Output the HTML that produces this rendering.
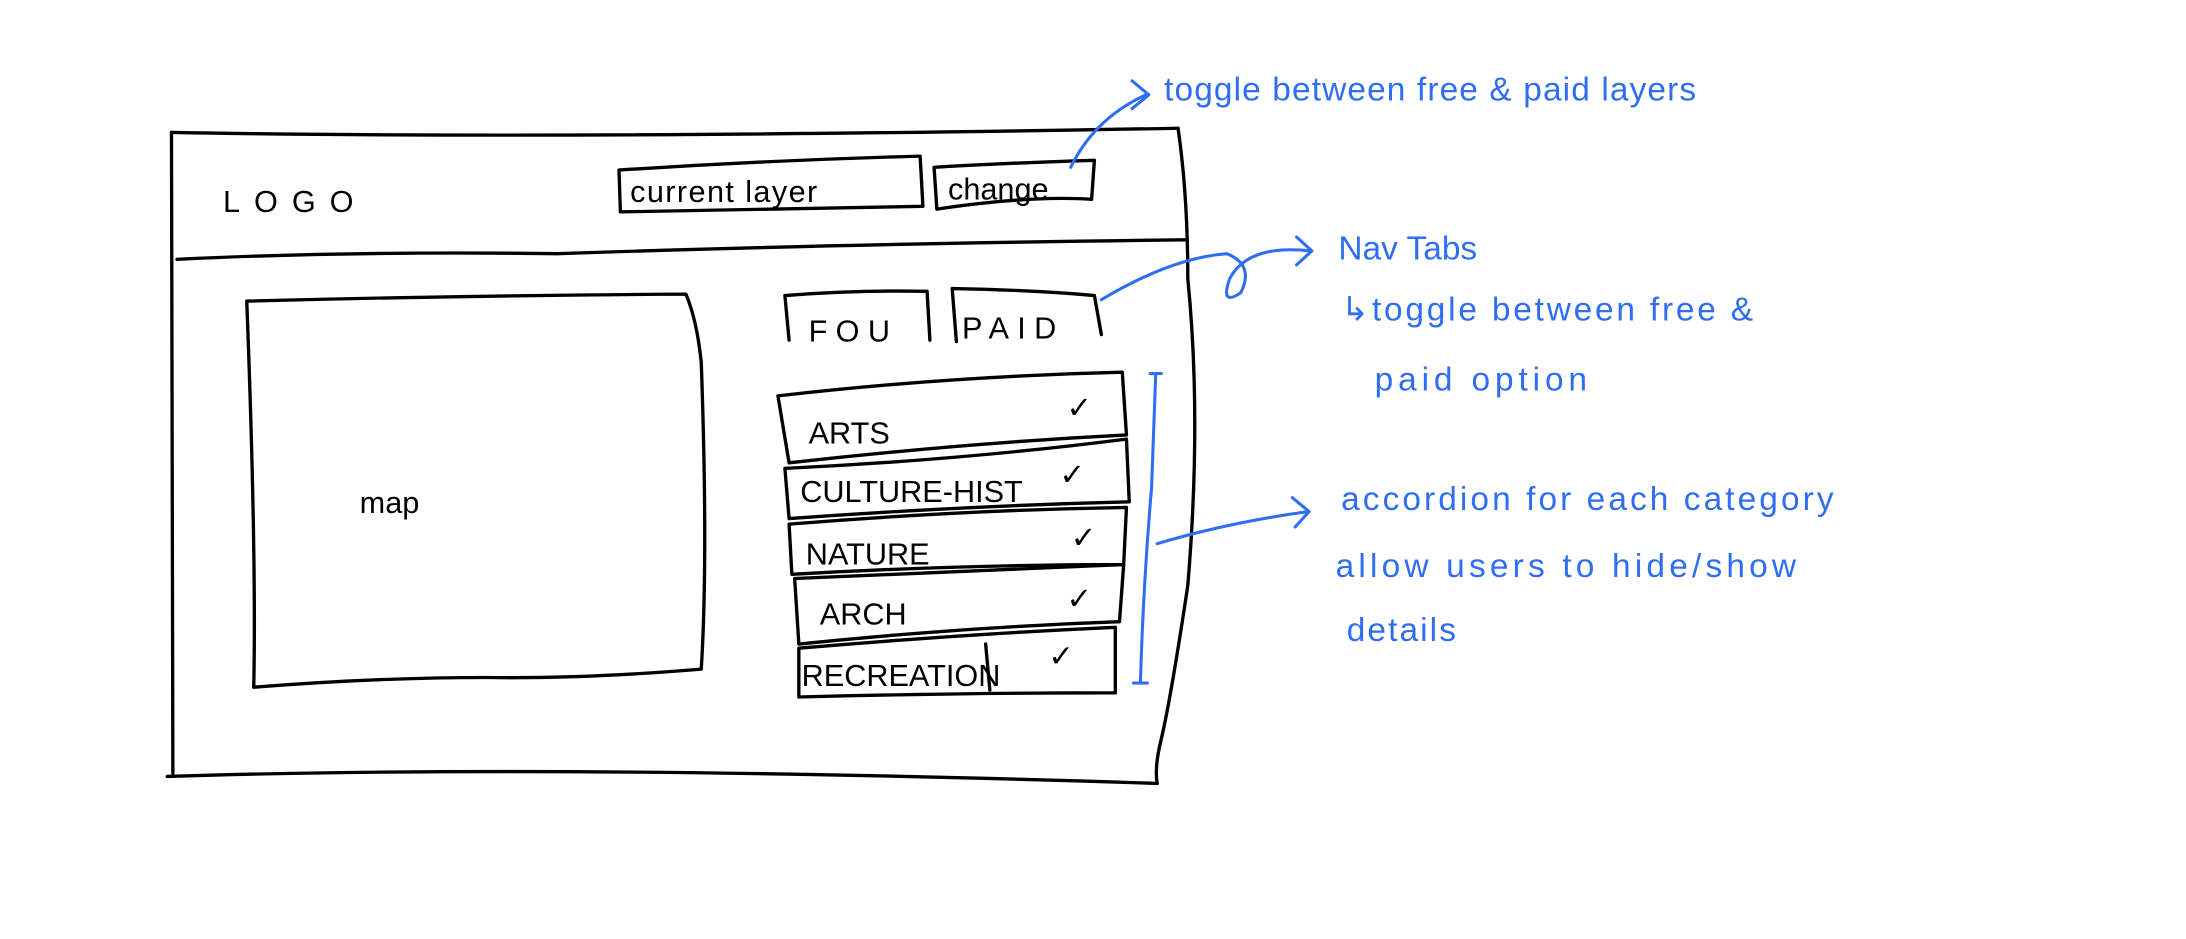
<!DOCTYPE html>
<html><head><meta charset="utf-8"><style>
html,body{margin:0;padding:0;background:#fff;}
svg{display:block;}
text{font-family:"Liberation Sans",sans-serif;}
.k{fill:none;stroke:#000;stroke-width:2.4;stroke-linecap:round;stroke-linejoin:round;}
.b{fill:none;stroke:#2f6ef2;stroke-width:2.2;stroke-linecap:round;stroke-linejoin:round;}
.tk{fill:#000;font-size:22px;}
.tb{fill:#2f6ef2;font-size:24px;}
</style></head><body>
<svg width="2186" height="939" viewBox="0 0 1568 673.6" preserveAspectRatio="none">
<path class="k" d="M123,95 L124,555"/>
<path class="k" d="M123,95 Q400,100 845,92"/>
<path class="k" d="M845,92 Q852,140 852,200 Q862,300 852,420 Q840,500 833,530 Q828,550 830,562"/>
<path class="k" d="M120,557 Q400,548 830,562"/>
<path class="k" d="M127,186 Q250,180 400,182 Q600,175 850,172"/>
<text class="tk" x="160" y="152" font-size="30" letter-spacing="10">LOGO</text>
<path class="k" d="M445,152 L444,122 Q550,115 660,112 L662,148 Q550,150 445,152"/>
<text class="tk" x="452" y="145" font-size="24" letter-spacing="1">current layer</text>
<path class="k" d="M672,150 L670,120 Q720,117 785,115 L783,143 Q740,140 672,150"/>
<text class="tk" x="680" y="143" font-size="22">change</text>
<path class="k" d="M177,216 Q330,212 492,211 Q500,230 503,260 Q508,400 503,480 Q420,487 350,486 Q270,486 182,493 Q184,400 177,216"/>
<text class="tk" x="258" y="368" font-size="28">map</text>
<path class="k" d="M566,244 L563,212 Q615,208 665,209 L667,244"/>
<text class="tk" x="580" y="245" font-size="26" letter-spacing="6">FOU</text>
<path class="k" d="M686,245 L683,207 Q740,208 785,212 L790,240"/>
<text class="tk" x="690" y="243" font-size="24" letter-spacing="6">PAID</text>
<path class="k" d="M558,284 Q680,270 805,267 L808,312 Q690,318 566,332 Z"/>
<text class="tk" x="580" y="318">ARTS</text><text class="tk" x="765" y="300" font-size="26">✓</text>
<path class="k" d="M563,336 Q690,330 808,315 L810,360 Q690,363 566,372 Z"/>
<text class="tk" x="574" y="360">CULTURE-HIST</text><text class="tk" x="760" y="348" font-size="26">✓</text>
<path class="k" d="M566,376 Q690,366 808,364 L806,405 Q690,405 568,412 Z"/>
<text class="tk" x="578" y="405">NATURE</text><text class="tk" x="768" y="393" font-size="26">✓</text>
<path class="k" d="M570,415 L806,405 L803,446 Q690,450 573,462 Z"/>
<text class="tk" x="588" y="448">ARCH</text><text class="tk" x="765" y="437" font-size="26">✓</text>
<path class="k" d="M573,465 Q690,455 800,450 L800,497 Q690,497 573,500 Z"/>
<text class="tk" x="575" y="492">RECREATION</text><text class="tk" x="752" y="478" font-size="26">✓</text>
<path class="k" d="M707,462 L710,495"/>
<path class="b" d="M768,120 Q785,85 822,68"/><path class="b" d="M812,58 L824,68 L812,78"/>
<text class="tb" x="835" y="72" font-size="25" letter-spacing="0.8">toggle between free &amp; paid layers</text>
<path class="b" d="M790,215 Q840,185 880,182 Q900,190 890,210 Q875,220 882,200 Q895,175 940,180"/><path class="b" d="M930,170 L941,180 L930,190"/>
<text class="tb" x="960" y="186" font-size="26">Nav Tabs</text>
<text class="tb" x="962" y="230" font-size="25" letter-spacing="2">↳toggle between free &amp;</text>
<text class="tb" x="986" y="280" font-size="25" letter-spacing="3.5">paid option</text>
<path class="b" d="M825,268 L833,268 M829,268 L826,350 Q820,420 818,490 M813,490 L823,490"/>
<path class="b" d="M830,390 Q880,375 938,367"/><path class="b" d="M927,357 L939,367 L929,378"/>
<text class="tb" x="962" y="366" font-size="27" letter-spacing="2.2">accordion for each category</text>
<text class="tb" x="958" y="414" font-size="26" letter-spacing="3">allow users to hide/show</text>
<text class="tb" x="966" y="460" font-size="25" letter-spacing="1.5">details</text>
</svg>
</body></html>
